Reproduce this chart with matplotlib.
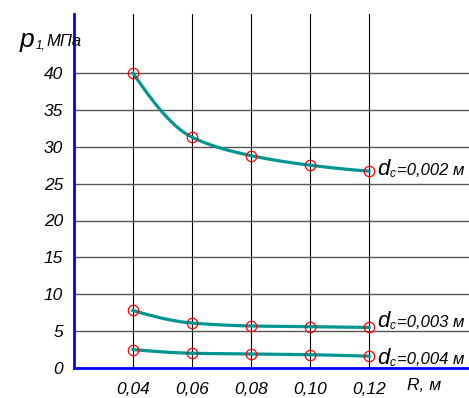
import numpy as np
import matplotlib
matplotlib.use("Agg")
import matplotlib.pyplot as plt

# radius R, m
r_vals = [0.04, 0.06, 0.08, 0.10, 0.12]
x_ticks = [0.04, 0.06, 0.08, 0.10, 0.12]
x_labels = ["0,04", "0,06", "0,08", "0,10", "0,12"]
y_ticks = [0, 5, 10, 15, 20, 25, 30, 35, 40]

# p1, MPa for each bore diameter dc
p_002 = [40.0, 31.3, 28.8, 27.5, 26.7]
p_003 = [7.8, 6.1, 5.7, 5.6, 5.5]
p_004 = [2.5, 2.0, 1.9, 1.8, 1.6]
series = [("0,002", p_002, 2), ("0,003", p_003, 6), ("0,004", p_004, -2)]

plt.rcParams['font.family'] = ['Liberation Sans', 'DejaVu Sans']
plt.rcParams['font.style'] = 'italic'

TEAL = "#009590"


def pchip(xs, ys, n=30):
    """shape-preserving cubic through the read points, only for drawing"""
    x = np.asarray(xs, float)
    y = np.asarray(ys, float)
    h = np.diff(x)
    d = np.diff(y) / h
    m = np.zeros_like(y)
    for k in range(1, len(x) - 1):
        if d[k - 1] * d[k] > 0:
            w1 = 2 * h[k] + h[k - 1]
            w2 = h[k] + 2 * h[k - 1]
            m[k] = (w1 + w2) / (w1 / d[k - 1] + w2 / d[k])
    for k, (a, b, ha, hb) in ((0, (d[0], d[1], h[0], h[1])),
                              (-1, (d[-1], d[-2], h[-1], h[-2]))):
        s = ((2 * ha + hb) * a - ha * b) / (ha + hb)
        if np.sign(s) != np.sign(a):
            s = 0
        elif np.sign(a) != np.sign(b) and abs(s) > abs(3 * a):
            s = 3 * a
        m[k] = s
    out_x, out_y = [], []
    t = np.linspace(0, 1, n)
    for k in range(len(x) - 1):
        h00 = 2 * t ** 3 - 3 * t ** 2 + 1
        h10 = t ** 3 - 2 * t ** 2 + t
        h01 = -2 * t ** 3 + 3 * t ** 2
        h11 = t ** 3 - t ** 2
        out_x.extend(x[k] + t * h[k])
        out_y.extend(h00 * y[k] + h10 * h[k] * m[k] + h01 * y[k + 1] + h11 * h[k] * m[k + 1])
    return out_x, out_y


fig = plt.figure(figsize=(4.69, 3.98), dpi=100)
ax = fig.add_axes([74 / 469, 1 - 368 / 398, 1 - 74 / 469, (368 - 14) / 398])

ax.set_xlim(0.02, 0.02 + 0.02 * (469 - 74) / 59)
ax.set_ylim(0, 48)

for label, vals, dy in series:
    sx, sy = pchip(r_vals, vals)
    ax.plot(sx, sy, color=TEAL, lw=2.3, zorder=3)
    ax.plot(r_vals, vals, 'o', mfc='none', mec='red', ms=7.5, mew=0.9, zorder=4)
    # label "dc=... м" right of the last point
    ax.annotate("d", (r_vals[-1], vals[-1]), xytext=(8, dy), textcoords='offset pixels',
                fontsize=16, va='center', ha='left')
    ax.annotate("c", (r_vals[-1], vals[-1]), xytext=(21, dy - 5), textcoords='offset pixels',
                fontsize=8.5, va='center', ha='left')
    ax.annotate("=" + label + " м", (r_vals[-1], vals[-1]), xytext=(28, dy - 1),
                textcoords='offset pixels', fontsize=12, va='center', ha='left')

ax.set_xticks(x_ticks)
ax.set_xticklabels(x_labels)
ax.set_yticks(y_ticks)
ax.tick_params(length=0, labelsize=12.5)
ax.tick_params(axis='x', pad=10)
ax.tick_params(axis='y', pad=8)

ax.grid(True, axis='y', color='#555555', lw=1.0)
ax.grid(True, axis='x', color='black', lw=0.8)

for s in ['top', 'right']:
    ax.spines[s].set_visible(False)
for s in ['left', 'bottom']:
    ax.spines[s].set_color('blue')
    ax.spines[s].set_linewidth(2)

# axis captions
fig.text(20 / 469, 1 - 40 / 398, "p", fontsize=19, va='center', ha='left')
fig.text(36 / 469, 1 - 45 / 398, "1,", fontsize=8.5, va='center', ha='left')
fig.text(46 / 469, 1 - 41 / 398, "МПа", fontsize=12, va='center', ha='left')
fig.text(424 / 469, 1 - 385 / 398, "R, м", fontsize=12.5, va='center', ha='center')

fig.savefig("out.png", dpi=100)
